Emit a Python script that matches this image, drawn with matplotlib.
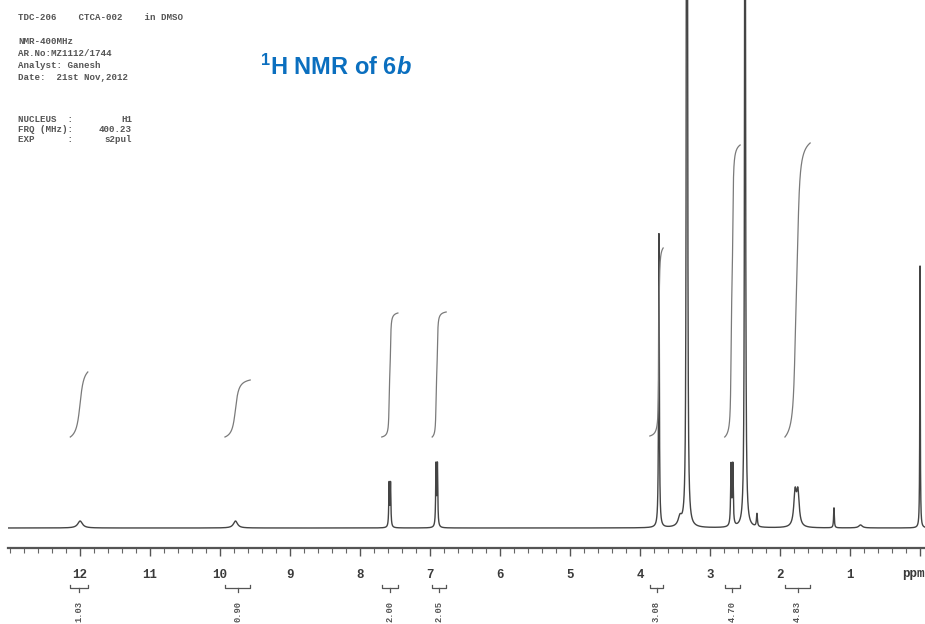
import numpy as np
import matplotlib.pyplot as plt
from matplotlib.ticker import MultipleLocator

# header printed on the spectrum sheet
header_top = "TDC-206    CTCA-002    in DMSO"
header_info = ["NMR-400MHz", "AR.No:MZ1112/1744", "Analyst: Ganesh", "Date:  21st Nov,2012"]
param_names = ["NUCLEUS  :", "FRQ (MHz):", "EXP      :"]
param_values = ["H1", "400.23", "s2pul"]

# peaks: shift (ppm), height (px above baseline), half width (ppm)
peak_ppm = [12.00, 9.78, 7.585, 7.565, 6.915, 6.895, 3.73, 3.43, 3.335, 3.325,
            2.700, 2.675, 2.50, 2.33, 1.785, 1.745, 1.23, 0.85, 0.00]
peak_height = [7, 7, 43, 43, 61, 61, 294, 9, 700, 700,
               60, 60, 1200, 13, 33, 33, 20, 3, 262]
peak_width = [0.04, 0.035, 0.006, 0.006, 0.006, 0.006, 0.006, 0.03, 0.006, 0.006,
              0.007, 0.007, 0.006, 0.008, 0.022, 0.022, 0.006, 0.03, 0.004]

# integral regions (ppm from/to), start level and rise (px), printed value
integ_from = [12.14, 9.93, 7.69, 6.97, 3.86, 2.79, 1.93]
integ_to = [11.89, 9.57, 7.46, 6.77, 3.67, 2.57, 1.57]
integ_base = [91, 91, 91, 91, 92, 91, 91]
integ_rise = [65, 57, 124, 125, 188, 292, 294]
integ_text = ["1.03", "0.90", "2.00", "2.05", "3.08", "4.70", "4.83"]

tick_ppm = list(range(0, 13))
tick_text = [""] + [str(i) for i in range(1, 13)]


def lorentz(x, c, h, w):
    return h / (1 + ((x - c) / w) ** 2)


plt.rcParams["mathtext.fontset"] = "custom"
plt.rcParams["mathtext.bf"] = "Liberation Sans:bold"
plt.rcParams["mathtext.it"] = "Liberation Sans:bold:italic"
plt.rcParams["mathtext.rm"] = "Liberation Sans:bold"

fig = plt.figure(figsize=(9.25, 6.24), dpi=100)
ax = fig.add_axes([8 / 925, 76 / 624, 917 / 925, 548 / 624])
ax.set_xlim(13.03, -0.071)
ax.set_ylim(-20, 528)

x = np.linspace(13.1, -0.1, 40000)
y = np.zeros_like(x)
for c, h, w in zip(peak_ppm, peak_height, peak_width):
    y += lorentz(x, c, h, w)
ax.plot(x, y, color="#444444", lw=1.0)

# integral curves + brackets + values
for lo, hi, base, rise, txt in zip(integ_from, integ_to, integ_base, integ_rise, integ_text):
    xs = np.linspace(lo, hi, 400)
    ys = np.zeros_like(xs)
    for c, h, w in zip(peak_ppm, peak_height, peak_width):
        if hi <= c <= lo:
            ys += lorentz(xs, c, h, w)
    cum = np.cumsum(ys)
    cum = (cum - cum[0]) / (cum[-1] - cum[0])
    ax.plot(xs, base + rise * cum, color="#7a7a7a", lw=0.9)

    mid = (lo + hi) / 2
    ax.plot([lo, lo, hi, hi], [-57, -60, -60, -57], color="#555555", lw=0.9, clip_on=False)
    ax.plot([mid, mid], [-60, -64], color="#555555", lw=0.9, clip_on=False)
    ax.text(mid, -83, txt, rotation=90, ha="center", va="center", fontsize=6.3,
            family="Liberation Mono", weight="bold", color="#555555", clip_on=False)

# ruler axis
for s in ["top", "left", "right"]:
    ax.spines[s].set_visible(False)
ax.spines["bottom"].set_color("#555555")
ax.spines["bottom"].set_linewidth(1.6)
ax.set_yticks([])
ax.set_xticks(tick_ppm)
ax.set_xticklabels(tick_text)
ax.xaxis.set_minor_locator(MultipleLocator(0.2))
ax.tick_params(axis="x", which="major", direction="out", length=6, width=1,
               color="#555555", pad=9, labelsize=9, labelcolor="#3a3a3a")
ax.tick_params(axis="x", which="minor", direction="out", length=3.5, width=0.8, color="#666666")
for lab in ax.get_xticklabels():
    lab.set_family("Liberation Mono")
    lab.set_weight("bold")
ax.text(0.09, -46, "ppm", ha="center", va="center", fontsize=9, family="Liberation Mono",
        weight="bold", color="#3a3a3a", clip_on=False)

# header text
hdr = dict(family="Liberation Mono", weight="bold", fontsize=6.6, color="#555555", va="center")
fig.text(18 / 925, 1 - 17 / 624, header_top, **hdr)
for i, line in enumerate(header_info):
    fig.text(18 / 925, 1 - (42 + 11.7 * i) / 624, line, **hdr)
for i, (n, v) in enumerate(zip(param_names, param_values)):
    fig.text(18 / 925, 1 - (119 + 10.5 * i) / 624, n, **hdr)
    fig.text(132 / 925, 1 - (119 + 10.5 * i) / 624, v, ha="right", **hdr)

# title
fig.text(260 / 925, 1 - 75 / 624, r"$^{\mathbf{1}}$H NMR of 6$\mathit{b}$",
         family="Liberation Sans", weight="bold", fontsize=17, color="#0B6FBF",
         va="baseline", ha="left")

fig.savefig("out.png", dpi=100, facecolor="white")
